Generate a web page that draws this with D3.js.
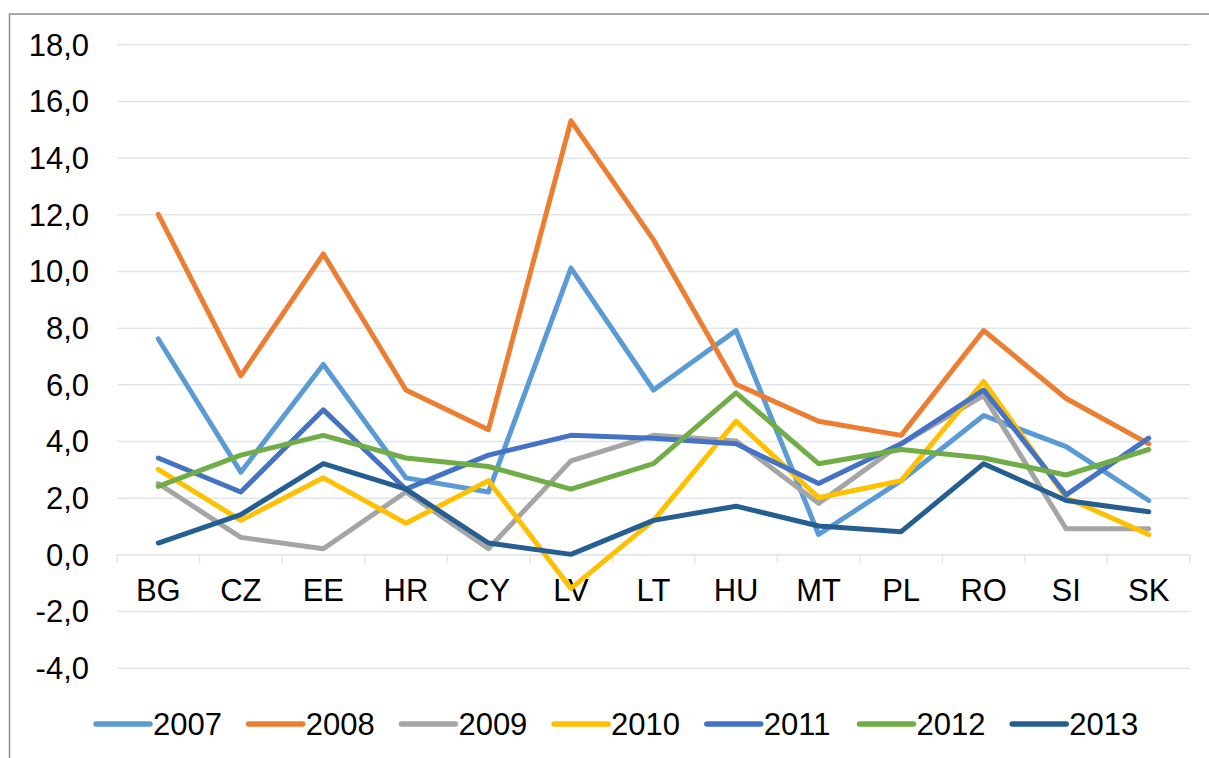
<!DOCTYPE html>
<html>
<head>
<meta charset="utf-8">
<script src="https://cdn.jsdelivr.net/npm/d3@7"></script>
<style>
  body { margin: 0; background: #fff; }
  text { font-family: "Liberation Sans", Arial, sans-serif; fill: #000; }
</style>
</head>
<body>
<svg id="chart"></svg>
<script>
const countries = ['BG', 'CZ', 'EE', 'HR', 'CY', 'LV', 'LT', 'HU', 'MT', 'PL', 'RO', 'SI', 'SK']
const years = ['2007', '2008', '2009', '2010', '2011', '2012', '2013']
const v2007 = [7.6, 2.9, 6.7, 2.7, 2.2, 10.1, 5.8, 7.9, 0.7, 2.6, 4.9, 3.8, 1.9]
const v2008 = [12.0, 6.3, 10.6, 5.8, 4.4, 15.3, 11.1, 6.0, 4.7, 4.2, 7.9, 5.5, 3.9]
const v2009 = [2.5, 0.6, 0.2, 2.2, 0.2, 3.3, 4.2, 4.0, 1.8, 3.9, 5.6, 0.9, 0.9]
const v2010 = [3.0, 1.2, 2.7, 1.1, 2.6, -1.2, 1.2, 4.7, 2.0, 2.6, 6.1, 2.0, 0.7]
const v2011 = [3.4, 2.2, 5.1, 2.3, 3.5, 4.2, 4.1, 3.9, 2.5, 3.9, 5.8, 2.1, 4.1]
const v2012 = [2.4, 3.5, 4.2, 3.4, 3.1, 2.3, 3.2, 5.7, 3.2, 3.7, 3.4, 2.8, 3.7]
const v2013 = [0.4, 1.4, 3.2, 2.3, 0.4, 0.0, 1.2, 1.7, 1.0, 0.8, 3.2, 1.9, 1.5]
const yTicks = [-4, -2, 0, 2, 4, 6, 8, 10, 12, 14, 16, 18]
const colors = ['#5B9BD5', '#ED7D31', '#A5A5A5', '#FFC000', '#4472C4', '#70AD47', '#255E91']

const series = [v2007, v2008, v2009, v2010, v2011, v2012, v2013].map((vals, i) => ({
    name: years[i],
    color: colors[i],
    values: vals
}))

const width = 1209
const height = 758
const margin = { top: 44.3, left: 117, bottom: 90.3, right: 19 }
const iwidth = width - margin.left - margin.right
const iheight = height - margin.top - margin.bottom

const svg = d3.select('#chart').attr('width', width).attr('height', height)

// outer frame (only top and left edges are visible in the picture)
svg.append('path')
    .attr('d', `M9.5,${height} V14 H${width}`)
    .attr('fill', 'none')
    .attr('stroke', '#8c8c8c')
    .attr('stroke-width', 1.5)

const g = svg.append('g').attr('transform', `translate(${margin.left},${margin.top})`)

const y = d3.scaleLinear().domain([-4, 18]).range([iheight, 0])
const x = d3.scaleBand().domain(countries).range([0, iwidth])

// gridlines + y labels
const yAxis = g.append('g')
    .call(d3.axisLeft(y).tickValues(yTicks).tickSize(-iwidth).tickPadding(28)
        .tickFormat(d => d3.format('.1f')(d).replace('.', ',').replace('−', '-')))
yAxis.select('.domain').remove()
yAxis.selectAll('line').attr('stroke', '#e1e5ea').attr('stroke-width', 1.5)
yAxis.selectAll('text').style('font-size', '31px').attr('dy', '0.35em')

// category axis at zero
const xAxis = g.append('g')
    .attr('transform', `translate(0,${y(0)})`)
    .call(d3.axisBottom(x).tickSize(0).tickPadding(25))
xAxis.select('.domain').attr('stroke', '#e1e5ea').attr('stroke-width', 1.5)
xAxis.selectAll('text').style('font-size', '31px')

g.append('g').selectAll('line')
    .data(d3.range(countries.length + 1))
    .join('line')
    .attr('x1', i => i * x.step())
    .attr('x2', i => i * x.step())
    .attr('y1', y(0))
    .attr('y2', y(0) + 9)
    .attr('stroke', '#e1e5ea')
    .attr('stroke-width', 1.5)

const line = d3.line()
    .x((d, i) => x(countries[i]) + x.bandwidth() / 2)
    .y(d => y(d))

g.selectAll('.series')
    .data(series)
    .join('path')
    .attr('class', 'series')
    .attr('fill', 'none')
    .attr('stroke', d => d.color)
    .attr('stroke-width', 5)
    .attr('stroke-linejoin', 'round')
    .attr('stroke-linecap', 'round')
    .attr('d', d => line(d.values))

// legend
const legend = svg.append('g').attr('transform', 'translate(96,724)')
const item = legend.selectAll('g')
    .data(series)
    .join('g')
    .attr('transform', (d, i) => `translate(${i * 152.7},0)`)
item.append('line')
    .attr('x1', 0).attr('x2', 54)
    .attr('stroke', d => d.color)
    .attr('stroke-width', 5.5)
    .attr('stroke-linecap', 'round')
item.append('text')
    .attr('x', 57)
    .attr('dy', '0.36em')
    .style('font-size', '31px')
    .text(d => d.name)
</script>
</body>
</html>
